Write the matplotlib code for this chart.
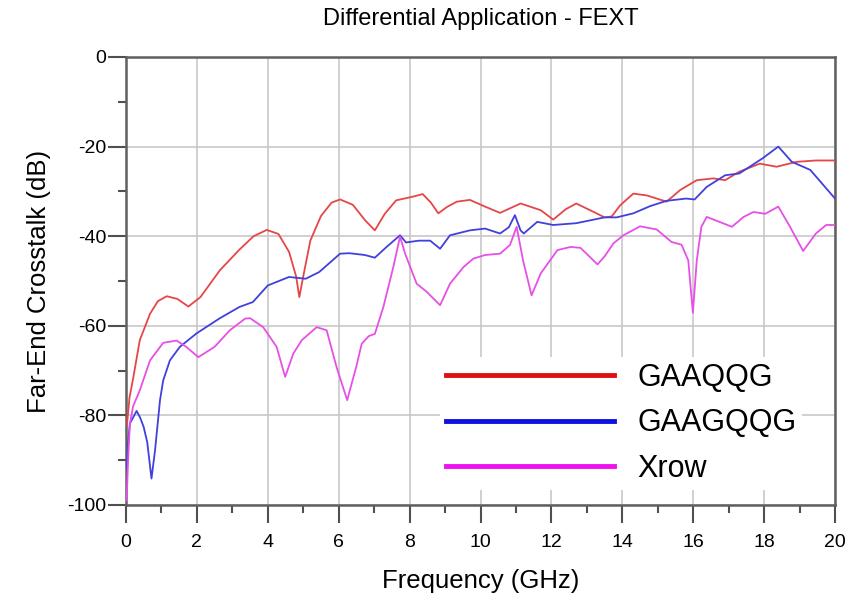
import matplotlib
matplotlib.use("Agg")
import matplotlib.pyplot as plt
from matplotlib.lines import Line2D

plt.rcParams['font.family'] = ['Liberation Sans', 'DejaVu Sans']
plt.rcParams['axes.unicode_minus'] = False

# FEXT curves, frequency in GHz, crosstalk in dB
freq_gaaqqg = [0.03, 0.1, 0.21, 0.39, 0.68, 0.9, 1.15, 1.45, 1.76, 2.1, 2.65, 3.2, 3.6,
               3.97, 4.3, 4.6, 4.8, 4.89, 5.0, 5.2, 5.5, 5.8, 6.04, 6.4, 6.74, 7.02, 7.3,
               7.62, 8.08, 8.37, 8.6, 8.81, 9.05, 9.33, 9.7, 10.13, 10.55, 11.13, 11.7,
               12.05, 12.4, 12.7, 13.17, 13.5, 13.7, 13.94, 14.31, 14.69, 15.25, 15.63,
               16.1, 16.57, 16.9, 17.3, 17.88, 18.35, 18.92, 19.46, 20.0]
db_gaaqqg = [-82, -76, -71.4, -63.2, -57.3, -54.5, -53.4, -54, -55.7, -53.6, -47.6, -43, -40,
             -38.6, -39.5, -43.5, -49, -53.6, -49, -41, -35.5, -32.5, -31.8, -33, -36.4, -38.7, -35,
             -32, -31.2, -30.6, -32.5, -34.9, -33.5, -32.3, -31.9, -33.4, -34.8, -32.7, -34.2,
             -36.3, -34, -32.7, -34.5, -35.8, -35.6, -33.1, -30.5, -30.9, -32.3, -29.7,
             -27.5, -27.1, -27.5, -25.6, -23.8, -24.5, -23.4, -23.1, -23.1]

freq_gaagqqg = [0.02, 0.06, 0.11, 0.2, 0.3, 0.4, 0.5, 0.6, 0.72, 0.82, 0.96, 1.05, 1.24, 1.52,
                1.99, 2.65, 3.2, 3.58, 4.0, 4.6, 5.07, 5.45, 6.04, 6.3, 6.74, 7.02, 7.35, 7.73,
                7.9, 8.26, 8.58, 8.86, 9.14, 9.7, 10.13, 10.55, 10.8, 10.97, 11.13, 11.22,
                11.6, 12.05, 12.7, 13.5, 13.84, 14.31, 14.78, 15.25, 15.8, 16.04, 16.38,
                16.9, 17.3, 17.96, 18.4, 18.78, 19.3, 20.0]
db_gaagqqg = [-92, -86, -81.8, -80.5, -79, -80.5, -82.6, -86, -94.1, -87.8, -76.6, -72.2, -67.7, -64.7,
              -61.7, -58.3, -55.8, -54.7, -51, -49.1, -49.5, -48, -43.9, -43.8, -44.2, -44.8, -42.4, -39.8,
              -41.4, -41, -41, -42.8, -39.8, -38.7, -38.3, -39.4, -38, -35.3, -38.7, -39.4,
              -36.8, -37.5, -37.1, -35.8, -35.8, -34.9, -33.3, -32.1, -31.6, -31.8, -29,
              -26.4, -26, -22.6, -20, -23.4, -25.2, -31.6]

freq_xrow = [0.02, 0.06, 0.11, 0.2, 0.39, 0.68, 1.05, 1.43, 1.7, 2.04, 2.5, 2.93, 3.36, 3.5,
             3.87, 4.25, 4.49, 4.72, 4.96, 5.38, 5.66, 5.94, 6.24, 6.5, 6.65, 6.85, 7.02, 7.26,
             7.54, 7.73, 7.87, 7.96, 8.2, 8.48, 8.86, 9.14, 9.52, 9.8, 10.13, 10.55, 10.83,
             11.02, 11.2, 11.44, 11.7, 12.17, 12.54, 12.82, 13.3, 13.5, 13.75, 14.03, 14.5,
             14.97, 15.39, 15.67, 15.86, 15.99, 16.1, 16.23, 16.38, 16.9, 17.09, 17.42,
             17.7, 18.03, 18.4, 18.73, 19.1, 19.46, 19.75, 20.0]
db_xrow = [-99, -90, -82, -78, -74.4, -67.7, -63.8, -63.3, -64.7, -67, -64.7, -61, -58.4, -58.3,
           -60.3, -64.7, -71.4, -66.2, -63.2, -60.3, -61, -69.2, -76.6, -69, -64, -62.3, -61.8, -55.8,
           -46.9, -40.1, -43.8, -45.7, -50.6, -52.4, -55.4, -50.6, -46.9, -45, -44.2, -43.9, -42,
           -37.9, -45.4, -53.2, -48.3, -43.1, -42.4, -42.6, -46.3, -44.5, -41.6, -39.8, -37.8,
           -38.5, -41.3, -41.9, -45.4, -57.1, -45.4, -37.9, -35.7, -37.3, -37.9, -35.7,
           -34.6, -35, -33.4, -37.9, -43.3, -39.4, -37.5, -37.5]

labels = ['GAAQQG', 'GAAGQQG', 'Xrow']
line_colors = ['#e64646', '#4040dc', '#e650e6']
legend_colors = ['#e01010', '#1010e0', '#f010f0']

fig = plt.figure(figsize=(8.54, 6.05), dpi=100)
ax = fig.add_axes([0.1475, 0.1653, 0.8303, 0.7405])

series = [(freq_gaaqqg, db_gaaqqg), (freq_gaagqqg, db_gaagqqg), (freq_xrow, db_xrow)]
for (f, d), c in zip(series, line_colors):
    ax.plot(f, d, color=c, lw=1.3, zorder=3)

ax.set_xlim(0, 20)
ax.set_ylim(-100, 0)
ax.set_xticks(range(0, 21, 2))
ax.set_xticks(range(1, 20, 2), minor=True)
ax.set_yticks(range(-100, 1, 20))
ax.set_yticks(range(-90, 0, 20), minor=True)
ax.grid(True, which='major', color='#c8c8c8', lw=1.2, zorder=0)

for s in ax.spines.values():
    s.set_color('#606060')
    s.set_linewidth(1.8)
ax.tick_params(which='major', direction='out', length=13, width=1.5, color='#505050',
               labelsize=14)
ax.tick_params(which='minor', direction='out', length=6, width=1.5, color='#505050')
ax.tick_params(axis='x', which='major', pad=8)
ax.tick_params(axis='y', which='major', pad=1)

ax.set_title('Differential Application - FEXT', fontsize=17, pad=23)
ax.set_xlabel('Frequency (GHz)', fontsize=18.5, labelpad=13)
ax.set_ylabel('Far-End Crosstalk (dB)', fontsize=18.5, labelpad=12)

handles = [Line2D([], [], color=c, lw=3.5) for c in legend_colors]
leg = ax.legend(handles, labels, loc='upper left', bbox_to_anchor=(440 / 854, 1 - 357 / 605),
                bbox_transform=fig.transFigure, fontsize=22, frameon=True, fancybox=False,
                edgecolor='none', facecolor='white', framealpha=1, borderpad=0.2,
                borderaxespad=0, handlelength=5.5, handletextpad=0.75, labelspacing=0.5)
leg.set_zorder(5)

fig.savefig('out.png', dpi=100)
